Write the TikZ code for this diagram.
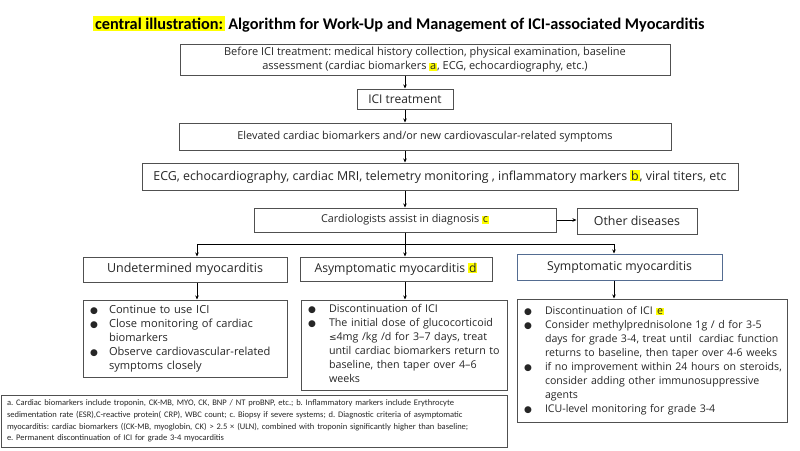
\documentclass[tikz,border=0pt]{standalone}
\usepackage{fontspec}
\setmainfont{Open Sans}
\newfontfamily\titlefont{Carlito}
\newfontfamily\notefont{Carlito}
\newfontfamily\symfont{DejaVu Sans}
\usetikzlibrary{arrows.meta,positioning,calc}
\tikzset{every picture/.style={line width=0.75pt}}
\definecolor{hlyellow}{RGB}{255,255,0}
\definecolor{boxgray}{RGB}{80,80,80}
\definecolor{boxblue}{RGB}{84,108,145}
\newcommand{\hl}[2][0.8pt]{{\setlength{\fboxsep}{#1}\colorbox{hlyellow}{#2}}}
\newcommand{\bul}{{\symfont\fontsize{9}{9}\selectfont ●}}
\newcommand{\fs}[1]{\fontsize{#1}{14}\selectfont}
\frenchspacing

\begin{document}
\begin{tikzpicture}[x=1pt,y=-1pt,
  box/.style={draw=boxgray,line width=1pt,inner sep=0pt,align=center,text=black!85},
  listbox/.style={draw=boxgray,line width=1pt,inner xsep=7pt,inner ysep=0pt,align=left,text=black!85},
  arr/.style={-{Stealth[length=4pt,width=3.5pt]},line width=1pt}]
    \useasboundingbox (0,0) rectangle (800,450);
    % title
    \node (title) at (399,24) {\titlefont\fontsize{16.3}{18}\selectfont\bfseries\hl[1.6pt]{central illustration:} Algorithm for Work-Up and Management of ICI-associated Myocarditis};
    % main flow
    \node[box,font=\fontsize{11}{14.5}\selectfont,minimum width=490,minimum height=31] (before) at (425,59.5) {Before ICI treatment: medical history collection, physical examination, baseline\\assessment (cardiac biomarkers \hl{a}, ECG, echocardiography, etc.)};
    \node[box,font=\fs{12},minimum width=96,minimum height=20] (ici) at (405,99) {ICI treatment};
    \node[box,font=\fs{10.9},minimum width=492,minimum height=27] (elev) at (425,136.5) {Elevated cardiac biomarkers and/or new cardiovascular-related symptoms};
    \node[box,font=\fs{12.4},minimum width=596,minimum height=27] (exam) at (440,176.5) {ECG, echocardiography, cardiac MRI, telemetry monitoring , inflammatory markers \hl{b}, viral titers, etc};
    \node[box,font=\fs{10.8},minimum width=302,minimum height=24] (cardio) at (405,220) {Cardiologists assist in diagnosis \hl{c}};
    \node[box,font=\fs{12.4},minimum width=120,minimum height=26] (other) at (637,221) {Other diseases};
    % three kinds
    \node[box,font=\fs{12.5},minimum width=204,minimum height=25] (undet) at (185,269.5) {Undetermined myocarditis};
    \node[box,font=\fs{12.2},minimum width=192,minimum height=24] (asym) at (396,269) {Asymptomatic myocarditis \hl{d}};
    \node[box,font=\fs{12.3},draw=boxblue,minimum width=205,minimum height=26] (sym) at (619.5,267) {Symptomatic myocarditis};
    % management
    \node[listbox,font=\fs{11.1},text width=190,minimum height=77] (undetList) at (185,338.5) {%
      \begin{tabular}{@{}p{19pt}@{}l@{}}
        \bul & Continue to use ICI\\
        \bul & Close monitoring of cardiac\\
             & biomarkers\\
        \bul & Observe cardiovascular-related\\
             & symptoms closely
      \end{tabular}};
    \node[listbox,font=\fs{10.7},text width=192,minimum height=90] (asymList) at (404,345) {%
      \begin{tabular}{@{}p{21pt}@{}l@{}}
        \bul & Discontinuation of ICI\\
        \bul & The initial dose of glucocorticoid\\
             & {\symfont\fontsize{9}{9}\selectfont ≤}4mg /kg /d for 3--7 days, treat\\
             & until cardiac biomarkers return to\\
             & baseline, then taper over 4--6\\
             & weeks
      \end{tabular}};
    \node[listbox,font=\fs{10.6},text width=256,minimum height=123] (symList) at (652,360.5) {%
      \begin{tabular}{@{}p{21pt}@{}l@{}}
        \bul & Discontinuation of ICI \hl{e}\\
        \bul & Consider methylprednisolone 1g / d for 3-5\\
             & days for grade 3-4, treat until\ \ cardiac function\\
             & returns to baseline, then taper over 4-6 weeks\\
        \bul & if no improvement within 24 hours on steroids,\\
             & consider adding other immunosuppressive\\
             & agents\\
        \bul & ICU-level monitoring for grade 3-4
      \end{tabular}};
    % notes
    \node[box,align=left,text width=494,inner xsep=6pt,minimum height=52,font=\notefont\fontsize{8.5}{11.7}\selectfont] (notes) at (254,421) {a. Cardiac biomarkers include troponin, CK-MB, MYO, CK, BNP / NT proBNP, etc.; b. Inflammatory markers include Erythrocyte\\sedimentation rate (ESR),C-reactive protein( CRP), WBC count; c. Biopsy if severe systems; d. Diagnostic criteria of asymptomatic\\myocarditis: cardiac biomarkers ((CK-MB, myoglobin, CK) > 2.5 × (ULN), combined with troponin significantly higher than baseline;\\e. Permanent discontinuation of ICI for grade 3-4 myocarditis};
    % arrows
    \coordinate (split) at (405,244);
    \coordinate (splitL) at (197,244);
    \coordinate (splitR) at (614,244);
    \draw[arr] (before.south -| ici.north) -- (ici.north);
    \draw[arr] (ici.south) -- (elev.north -| ici);
    \draw[arr] (elev.south -| ici) -- (exam.north -| ici);
    \draw[arr] (exam.south -| ici) -- (cardio.north -| ici);
    \draw[arr] (cardio.east) -- (other.west |- cardio.east);
    \draw (cardio.south) -- (split);
    \draw[arr] (split) -| (undet.north -| splitL);
    \draw[arr] (split) -- (asym.north -| split);
    \draw[arr] (split) -| (sym.north -| splitR);
    \draw[arr] (undet.south -| splitL) -- (undetList.north -| splitL);
    \draw[arr] (asym.south -| split) -- (asymList.north -| split);
    \draw[arr] (sym.south -| splitR) -- (symList.north -| splitR);
\end{tikzpicture}
\end{document}
